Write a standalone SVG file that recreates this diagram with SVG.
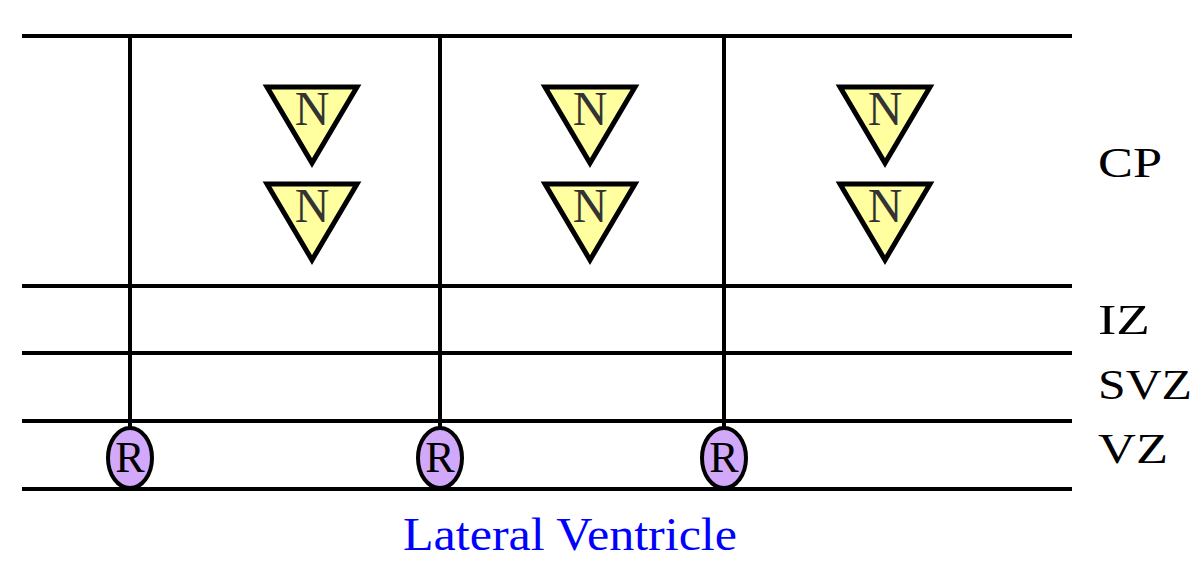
<svg xmlns="http://www.w3.org/2000/svg" width="1197" height="564" viewBox="0 0 1197 564">
<style>
.ln{stroke:#000;stroke-width:4;fill:none}
.tri{fill:#ffffa0;stroke:#000;stroke-width:5;stroke-linejoin:miter}
.ntx{font-family:"Liberation Serif",serif;font-size:48px;fill:#333;text-anchor:middle}
.rg{fill:#d2a8fa;stroke:#000;stroke-width:4}
.rtx{font-family:"Liberation Serif",serif;font-size:44px;fill:#000;text-anchor:middle}
.lbl{font-family:"Liberation Serif",serif;font-size:42px;fill:#000}
</style>
<rect width="1197" height="564" fill="#fff"/>
<g id="connectors">
<line class="ln" x1="22" y1="36" x2="1072" y2="36"/>
<line class="ln" x1="22" y1="286" x2="1072" y2="286"/>
<line class="ln" x1="22" y1="353" x2="1072" y2="353"/>
<line class="ln" x1="22" y1="421" x2="1072" y2="421"/>
<line class="ln" x1="22" y1="489" x2="1072" y2="489"/>
<line class="ln" x1="130" y1="36" x2="130" y2="428"/>
<line class="ln" x1="440" y1="36" x2="440" y2="428"/>
<line class="ln" x1="724" y1="36" x2="724" y2="428"/>
</g>
<g id="N1"><polygon class="tri" points="267,87 357,87 312,163"/><text class="ntx" x="312" y="125">N</text></g>
<g id="N2"><polygon class="tri" points="267,184 357,184 312,260"/><text class="ntx" x="312" y="222">N</text></g>
<g id="N3"><polygon class="tri" points="545,87 635,87 590,163"/><text class="ntx" x="590" y="125">N</text></g>
<g id="N4"><polygon class="tri" points="545,184 635,184 590,260"/><text class="ntx" x="590" y="222">N</text></g>
<g id="N5"><polygon class="tri" points="840,87 930,87 885,163"/><text class="ntx" x="885" y="125">N</text></g>
<g id="N6"><polygon class="tri" points="840,184 930,184 885,260"/><text class="ntx" x="885" y="222">N</text></g>
<g id="R1"><ellipse class="rg" cx="130" cy="458" rx="22" ry="30"/><text class="rtx" x="130" y="472">R</text></g>
<g id="R2"><ellipse class="rg" cx="440" cy="458" rx="22" ry="30"/><text class="rtx" x="440" y="472">R</text></g>
<g id="R3"><ellipse class="rg" cx="724" cy="458" rx="22" ry="30"/><text class="rtx" x="724" y="472">R</text></g>
<g id="labels">
<text class="lbl" x="1098" y="177" textLength="64" lengthAdjust="spacingAndGlyphs">CP</text>
<text class="lbl" x="1098" y="334" textLength="52" lengthAdjust="spacingAndGlyphs">IZ</text>
<text class="lbl" x="1098" y="399" textLength="94" lengthAdjust="spacingAndGlyphs">SVZ</text>
<text class="lbl" x="1098" y="463" textLength="70" lengthAdjust="spacingAndGlyphs">VZ</text>
<text x="403" y="550" font-family="Liberation Serif, serif" font-size="46" fill="#0000ff" textLength="334" lengthAdjust="spacingAndGlyphs">Lateral Ventricle</text>
</g>
</svg>
